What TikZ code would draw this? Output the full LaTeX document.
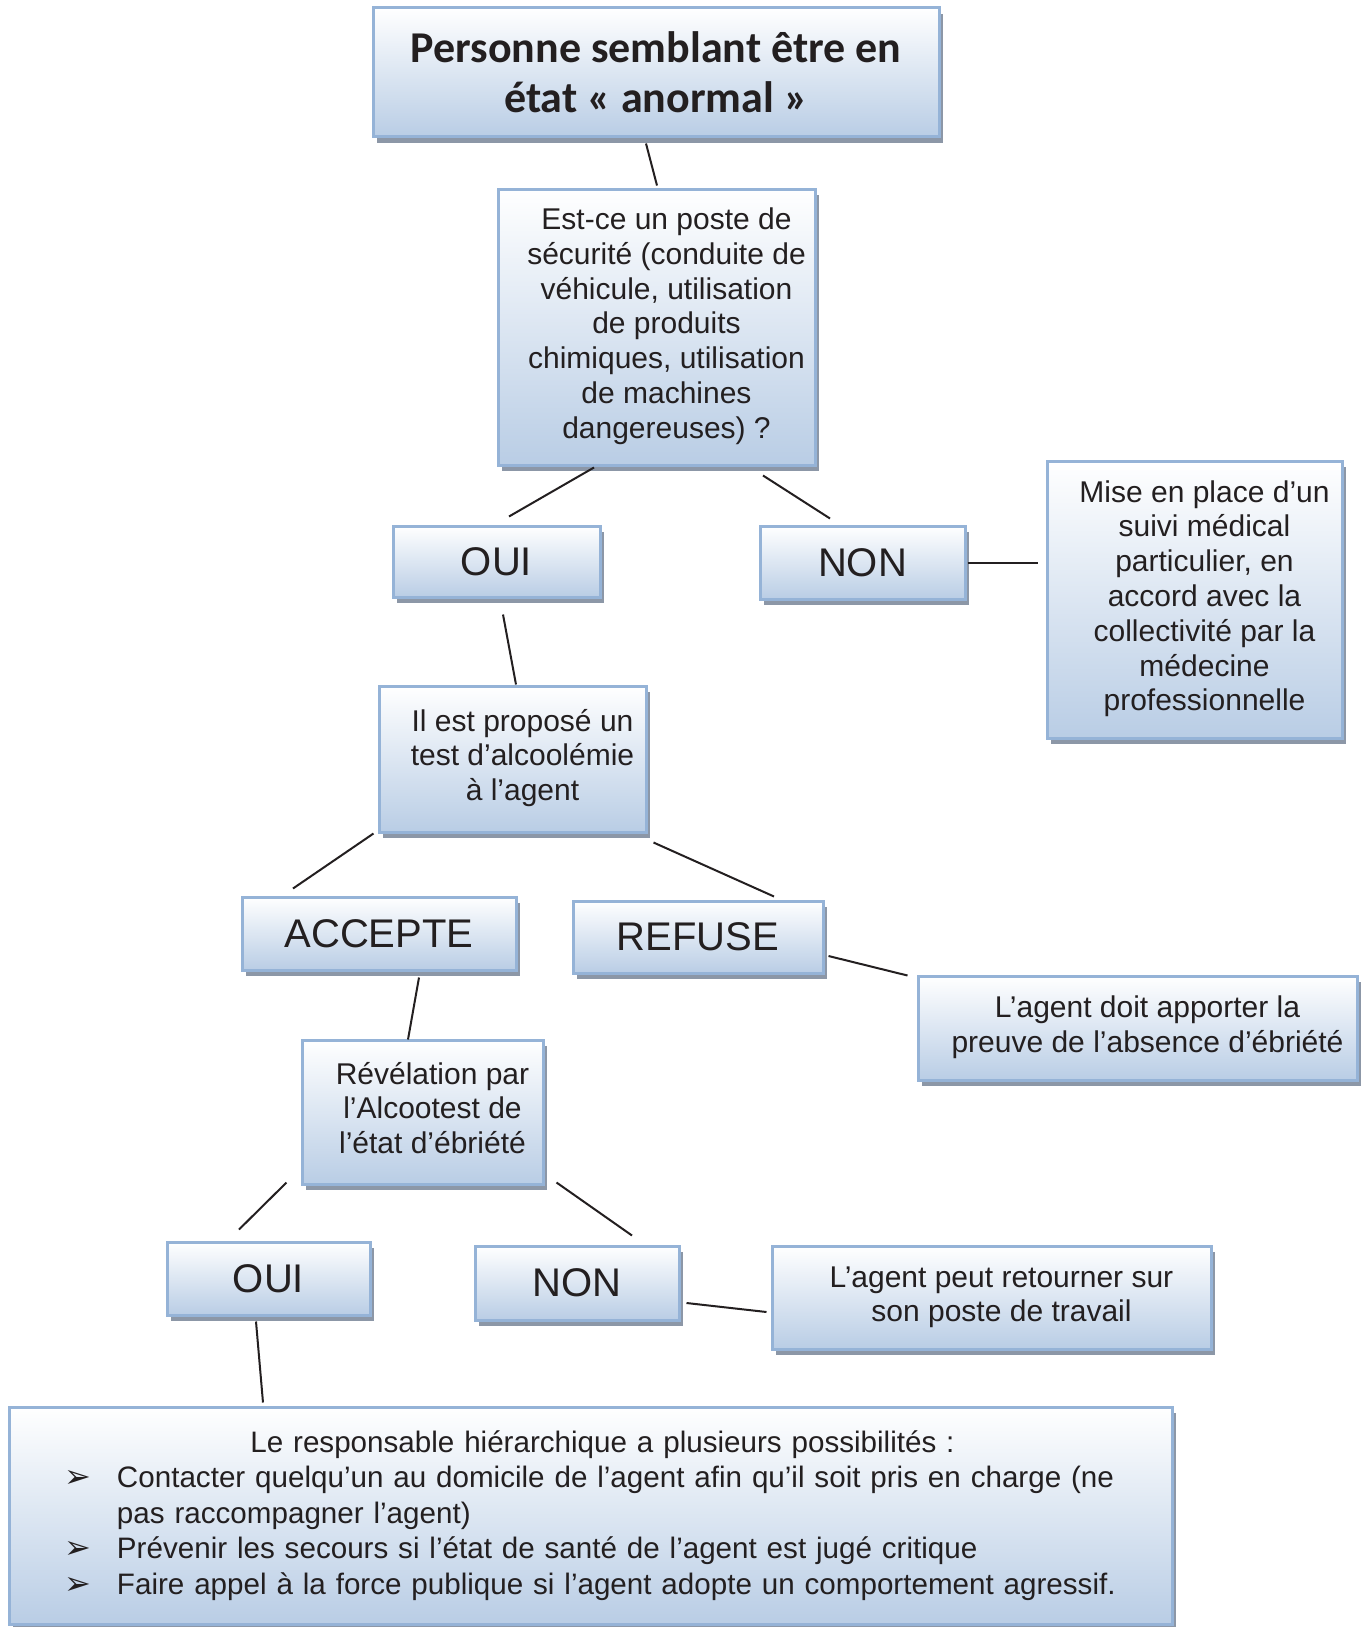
\documentclass[tikz,border=0pt]{standalone}
\usepackage{fontspec}
\setmainfont{Liberation Sans}
\newfontfamily\titlefont{Carlito}
\newfontfamily\bulfont{DejaVu Sans}
\usetikzlibrary{shadows}
\definecolor{boxblue}{RGB}{185,205,229}
\definecolor{boxline}{RGB}{149,179,215}
\definecolor{boxshadow}{RGB}{140,151,167}
\definecolor{inkcol}{RGB}{35,31,32}
\newcommand{\lines}[1]{\hspace*{10pt}\begin{tabular}{@{}c@{}}#1\end{tabular}}
\newcommand{\bul}{{\bulfont\fontsize{16}{16}\selectfont ➢}}
\tikzset{
	box/.style={rectangle, draw=boxline, line width=1.5pt, top color=white, bottom color=boxblue,
		drop shadow={shadow xshift=2pt, shadow yshift=-3pt, fill=boxshadow, opacity=1},
		inner sep=0pt, text=inkcol},
	answer/.style={box, font=\fontsize{20}{24}\selectfont},
	info/.style={box, font=\fontsize{15}{17.4}\selectfont},
	link/.style={draw=inkcol, line width=1pt},
}

\begin{document}
\begin{tikzpicture}[x=0.5pt, y=-0.5pt]
	\useasboundingbox (0,0) rectangle (1362,1627);
	\node [box, font=\titlefont\bfseries\fontsize{22}{25}\selectfont, align=center,
		minimum width=283pt, minimum height=64.5pt] (title) at (656,72.5)
		{Personne semblant être en\\état «~anormal~»};
	\node [info, minimum width=158.5pt, minimum height=138pt] (q) at (656.5,327)
		{\lines{Est-ce un poste de\\sécurité (conduite de\\véhicule, utilisation\\de produits\\chimiques, utilisation\\de machines\\dangereuses)~?}};
	\node [answer, minimum width=103.5pt, minimum height=35.5pt] (oui1) at (496.5,561.5) {OUI};
	\node [answer, minimum width=102.5pt, minimum height=36.5pt] (non1) at (862.5,562.5) {NON};
	\node [info, minimum width=147.5pt, minimum height=138.5pt] (mise) at (1194.5,599.5)
		{\lines{Mise en place d’un\\suivi médical\\particulier, en\\accord avec la\\collectivité par la\\médecine\\professionnelle}};
	\node [info, minimum width=133.5pt, minimum height=73pt] (test) at (512.5,759)
		{\lines{Il est proposé un\\test d’alcoolémie\\à l’agent}};
	\node [answer, minimum width=137pt, minimum height=36.5pt] (accepte) at (379,933.5) {ACCEPTE};
	\node [answer, minimum width=125pt, minimum height=36pt] (refuse) at (698,937) {REFUSE};
	\node [info, minimum width=219.5pt, minimum height=52pt] (preuve) at (1137.5,1028)
		{\lines{L’agent doit apporter la\\preuve de l’absence d’ébriété}};
	\node [info, minimum width=120.5pt, minimum height=72pt] (revel) at (422.5,1112)
		{\lines{Révélation par\\l’Alcootest de\\l’état d’ébriété}};
	\node [answer, minimum width=101.5pt, minimum height=36.5pt] (oui2) at (268.5,1278.5) {OUI};
	\node [answer, minimum width=102pt, minimum height=37pt] (non2) at (577,1283) {NON};
	\node [info, minimum width=219.5pt, minimum height=51.5pt] (retour) at (991.5,1297.5)
		{\lines{L’agent peut retourner sur\\son poste de travail}};
	\node [box, font=\fontsize{14.8}{17.8}\selectfont, text width=581.5pt, minimum height=108.5pt] (actions) at (590.5,1515.5) {%
		{\centering\hspace*{12pt}Le responsable hiérarchique a plusieurs possibilités :\par}
		\noindent\hspace*{28pt}\makebox[26pt][l]{\bul}Contacter quelqu’un au domicile de l’agent afin qu’il soit pris en charge (ne\par
		\noindent\hspace*{54pt}pas raccompagner l’agent)\par
		\noindent\hspace*{28pt}\makebox[26pt][l]{\bul}Prévenir les secours si l’état de santé de l’agent est jugé critique\par
		\noindent\hspace*{28pt}\makebox[26pt][l]{\bul}Faire appel à la force publique si l’agent adopte un comportement agressif.\par};

	\draw [link] ([shift={(-10,5)}]title.south) -- ([shift={(0.5,-2)}]q.north);
	\draw [link] ([shift={(-62.5,1)}]q.south) -- ([shift={(12.5,-8)}]oui1.north);
	\draw [link] ([shift={(106.5,9)}]q.south) -- ([shift={(-32.5,-6)}]non1.north);
	\draw [link] ([shift={(1,0.5)}]non1.east) -- ([shift={(-8,-36.5)}]mise.west);
	\draw [link] ([shift={(6.5,16)}]oui1.south) -- ([shift={(3.5,0)}]test.north);
	\draw [link] ([shift={(-4,0)}]test.south west) -- ([shift={(-86,-7)}]accepte.north);
	\draw [link] ([shift={(6,9)}]test.south east) -- ([shift={(76,-3)}]refuse.north);
	\draw [link] ([shift={(4,19)}]refuse.east) -- ([shift={(-9,1)}]preuve.north west);
	\draw [link] ([shift={(40,6)}]accepte.south) -- ([shift={(-14.5,1)}]revel.north);
	\draw [link] ([shift={(-14,-3)}]revel.south west) -- ([shift={(-29.5,-11)}]oui2.north);
	\draw [link] ([shift={(12,-3)}]revel.south east) -- ([shift={(55,-9)}]non2.north);
	\draw [link] ([shift={(6,20)}]non2.east) -- ([shift={(-4,14.5)}]retour.west);
	\draw [link] ([shift={(-12.5,5)}]oui2.south) -- ([shift={(-327.5,-3)}]actions.north);
\end{tikzpicture}
\end{document}
